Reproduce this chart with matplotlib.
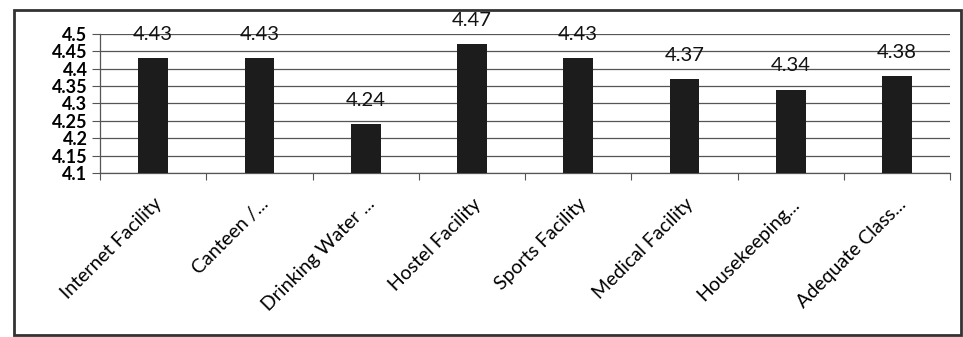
import matplotlib.pyplot as plt
from matplotlib.patches import Rectangle
import numpy as np

categories = ["Internet Facility", "Canteen /...", "Drinking Water ...", "Hostel Facility",
              "Sports Facility", "Medical Facility", "Housekeeping...", "Adequate Class..."]
scores = [4.43, 4.43, 4.24, 4.47, 4.43, 4.37, 4.34, 4.38]
yticks = [4.1, 4.15, 4.2, 4.25, 4.3, 4.35, 4.4, 4.45, 4.5]
ytick_labels = ["4.1", "4.15", "4.2", "4.25", "4.3", "4.35", "4.4", "4.45", "4.5"]

plt.rcParams["font.family"] = ["Lato", "DejaVu Sans"]

W, H = 963, 337
fig = plt.figure(figsize=(W / 100, H / 100), dpi=100)
ax = fig.add_axes([100 / W, 1 - 173 / H, 850 / W, 139 / H])

# outer frame round the chart
fig.patches.append(Rectangle((14 / W, 2 / H), 947 / W, 325 / H, transform=fig.transFigure,
                             fill=False, edgecolor="#333333", linewidth=2))

x = np.arange(len(categories))
ax.bar(x, [s - 4.1 for s in scores], bottom=4.1, width=0.28, color="#1c1c1c", zorder=3)
for xi, s in zip(x, scores):
    ax.annotate(f"{s:.2f}", (xi, s), xytext=(0, 17), textcoords="offset points",
                ha="center", va="center", fontsize=14.5, color="#111111")

ax.set_ylim(4.1, 4.5)
ax.set_xlim(-0.5, len(categories) - 0.5)
ax.set_yticks(yticks)
ax.set_yticklabels(ytick_labels, fontsize=13, fontweight="bold")
ax.yaxis.grid(True, color="#555555", linewidth=0.9, zorder=0)
ax.tick_params(axis="y", length=6, width=0.8, color="#555555", pad=3)

ax.set_xticks(np.arange(len(categories) + 1) - 0.5, minor=False)
ax.set_xticklabels([])
ax.set_xticks(x, minor=True)
ax.set_xticklabels(categories, minor=True, rotation=45, ha="right", rotation_mode="anchor",
                   fontsize=14)
ax.tick_params(axis="x", which="major", length=5, width=0.8, color="#555555")
ax.tick_params(axis="x", which="minor", length=0, pad=16)

for side in ["top", "right"]:
    ax.spines[side].set_visible(False)
for side in ["left", "bottom"]:
    ax.spines[side].set_color("#555555")
    ax.spines[side].set_linewidth(0.9)

fig.savefig("out.png", dpi=100)
